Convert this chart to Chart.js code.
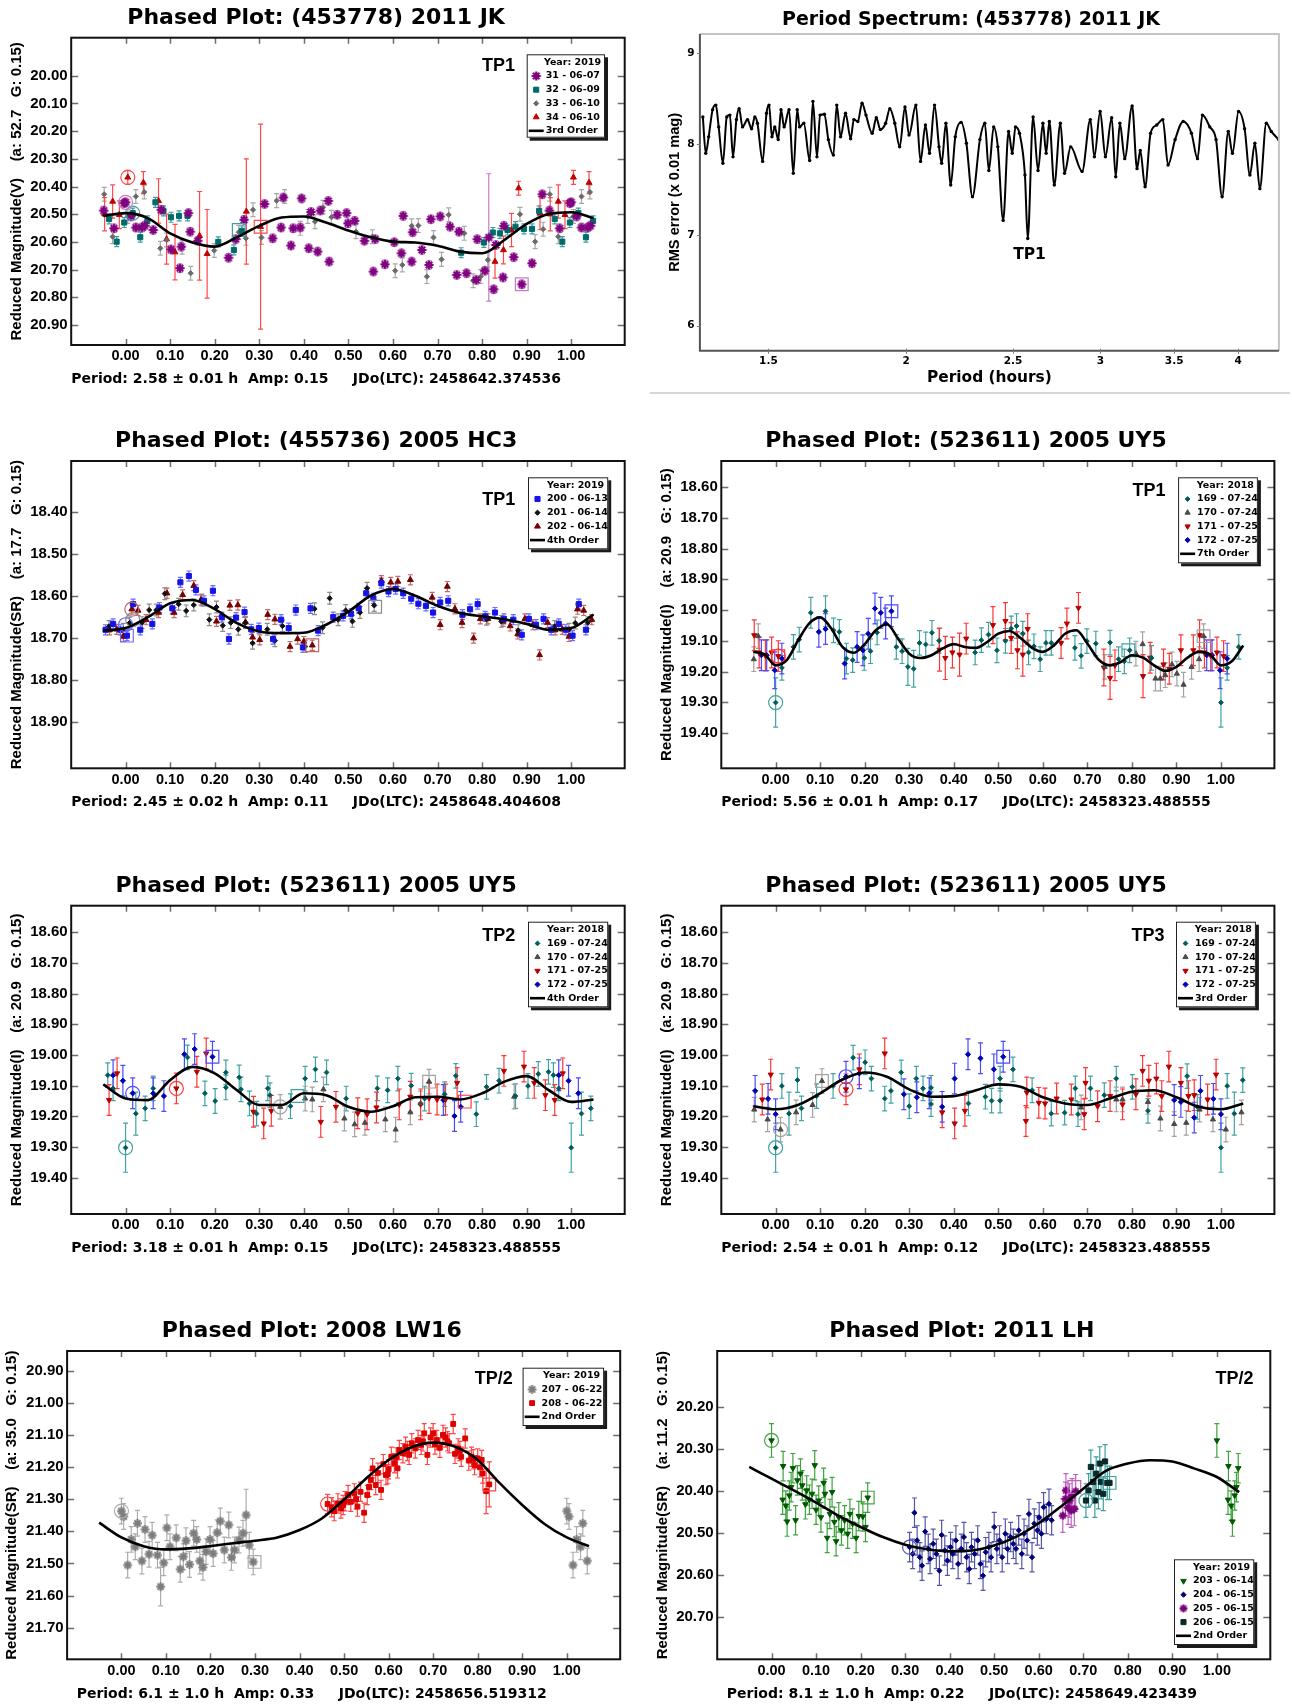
<!DOCTYPE html>
<html>
<head>
<meta charset="utf-8">
<title>Phased plots</title>
<script src="https://cdn.jsdelivr.net/npm/chart.js@4.4.1/dist/chart.umd.min.js"></script>
<style>
  html, body { margin: 0; padding: 0; background: #fff; }
  body { position: relative; width: 1292px; height: 1707px; overflow: hidden; }
  .panel { position: absolute; }
  .rule { position: absolute; left: 650px; top: 392px; width: 640px; height: 2px; background: #d6d6d6; }
</style>
</head>
<body>
<div class="panel" style="left:0;top:0"><canvas id="p1" width="646" height="400"></canvas></div>
<div class="panel" style="left:646px;top:0"><canvas id="p2" width="646" height="392"></canvas></div>
<div class="rule"></div>
<div class="panel" style="left:0;top:420px"><canvas id="p3" width="646" height="420"></canvas></div>
<div class="panel" style="left:646px;top:420px"><canvas id="p4" width="646" height="420"></canvas></div>
<div class="panel" style="left:0;top:860px"><canvas id="p5" width="646" height="420"></canvas></div>
<div class="panel" style="left:646px;top:860px"><canvas id="p6" width="646" height="420"></canvas></div>
<div class="panel" style="left:0;top:1300px"><canvas id="p7" width="646" height="407"></canvas></div>
<div class="panel" style="left:646px;top:1300px"><canvas id="p8" width="646" height="407"></canvas></div>
<script>
// ---- shared tick values ----
const phaseTicks = [0.00, 0.10, 0.20, 0.30, 0.40, 0.50, 0.60, 0.70, 0.80, 0.90, 1.00];
const fitPhase = [-0.05, 0.00, 0.05, 0.10, 0.15, 0.20, 0.25, 0.30, 0.35, 0.40, 0.45, 0.50,
  0.55, 0.60, 0.65, 0.70, 0.75, 0.80, 0.85, 0.90, 0.95, 1.00, 1.05];
const fitPhaseFine = [-0.05, -0.025, 0.00, 0.025, 0.05, 0.075, 0.10, 0.125, 0.15, 0.175, 0.20, 0.225,
  0.25, 0.275, 0.30, 0.325, 0.35, 0.375, 0.40, 0.425, 0.45, 0.475, 0.50, 0.525, 0.55, 0.575,
  0.60, 0.625, 0.65, 0.675, 0.70, 0.725, 0.75, 0.775, 0.80, 0.825, 0.85, 0.875, 0.90, 0.925,
  0.95, 0.975, 1.00, 1.025, 1.05];

// ---- panel 1: (453778) 2011 JK, rows are [phase, mag, (err)] ----
const p1_yTicks = [20.00, 20.10, 20.20, 20.30, 20.40, 20.50, 20.60, 20.70, 20.80, 20.90];
const p1_s31 = [[0.000,20.457],[0.012,20.508],[0.023,20.548],[0.037,20.548],[0.043,20.541],[0.062,20.557],
  [0.080,20.484],[0.102,20.627],[0.122,20.695],[0.125,20.617],[0.141,20.496],[0.145,20.563],[0.162,20.596],
  [0.231,20.657],[0.247,20.590],[0.266,20.520],[0.312,20.463],[0.330,20.587],[0.349,20.548],[0.354,20.440],
  [0.371,20.613],[0.376,20.551],[0.392,20.548],[0.395,20.443],[0.411,20.623],[0.416,20.492],[0.431,20.635],
  [0.437,20.487],[0.455,20.452],[0.457,20.671],[0.475,20.502],[0.496,20.496],[0.499,20.533],[0.514,20.524],
  [0.536,20.596],[0.556,20.707],[0.560,20.590],[0.582,20.681],[0.603,20.601],[0.619,20.641],[0.623,20.506],
  [0.642,20.671],[0.644,20.565],[0.665,20.629],[0.681,20.683],[0.685,20.518],[0.706,20.508],[0.728,20.545],
  [0.743,20.719],[0.748,20.563],[0.765,20.713],[0.787,20.737],[0.789,20.590],[0.806,20.704],[0.815,20.584,0.23],
  [0.826,20.771],[0.831,20.611],[0.847,20.728],[0.849,20.542],[0.871,20.655],[0.889,20.753],[0.912,20.677],
  [0.935,20.428],[0.951,20.487],[0.974,20.551],[0.997,20.460]];
const p1_s32 = [[0.016,20.496],[0.033,20.583],[0.049,20.524],[0.067,20.457],[0.085,20.488],[0.102,20.511],
  [0.120,20.506],[0.139,20.506],[0.208,20.600],[0.243,20.629],[0.261,20.560],[0.753,20.639],[0.804,20.602],
  [0.824,20.566],[0.840,20.569],[0.857,20.557],[0.875,20.545],[0.894,20.553],[0.912,20.553],[0.928,20.488],
  [0.963,20.517],[0.980,20.599],[0.997,20.530]];
const p1_s33 = [[0.005,20.508],[0.023,20.436],[0.042,20.420],[0.078,20.623],[0.092,20.593],[0.127,20.619],
  [0.146,20.713],[0.199,20.631],[0.254,20.565],[0.270,20.587],[0.286,20.484],[0.305,20.584],[0.339,20.451],
  [0.357,20.436],[0.392,20.551],[0.409,20.508],[0.425,20.527],[0.443,20.475],[0.462,20.511],[0.517,20.563],
  [0.554,20.581],[0.605,20.704],[0.621,20.683],[0.642,20.542],[0.657,20.541],[0.676,20.725],[0.691,20.584],
  [0.709,20.663],[0.725,20.502],[0.760,20.569],[0.780,20.740],[0.797,20.725],[0.813,20.665],[0.885,20.500],
  [0.919,20.599],[0.937,20.554],[0.952,20.428],[0.971,20.581]];
const p1_s34 = [[0.005,20.367,0.025],[0.040,20.386,0.04],[0.074,20.452,0.08],[0.092,20.590,0.09],
  [0.111,20.637,0.10],[0.166,20.578,0.16],[0.183,20.643,0.16],[0.271,20.490,0.19],[0.303,20.545,0.37],
  [0.829,20.671,0.06],[0.848,20.629,0.05],[0.866,20.557,0.06],[0.882,20.406,0.025],[0.930,20.496,0.06],
  [0.953,20.500,0.06],[0.971,20.454,0.06],[0.986,20.502,0.05]];
const p1_err = [0.015, 0.018, 0.025, 0.05];
const p1_fit = [20.506,20.496,20.514,20.569,20.602,20.617,20.583,20.542,20.512,20.508,20.530,20.559,
  20.583,20.599,20.602,20.614,20.635,20.641,20.593,20.535,20.499,20.493,20.514];
// rings (first) and boxes (last) around session start/end points
const p1_m31 = [[0.000,20.457],[0.889,20.753]];
const p1_m32 = [[0.016,20.496],[0.254,20.557]];
const p1_m34 = [[0.005,20.367],[0.303,20.545]];

// ---- panel 2: period spectrum ----
const p2_xTicks = [1.5, 2, 2.5, 3, 3.5, 4];
const p2_yTicks = [6, 7, 8, 9];
const p2_period = [1.308,1.316,1.324,1.335,1.344,1.352,1.364,1.375,1.384,1.393,
  1.403,1.411,1.421,1.436,1.448,1.458,1.466,1.482,1.494,1.502,
  1.511,1.520,1.531,1.540,1.550,1.566,1.580,1.593,1.601,1.615,
  1.635,1.646,1.660,1.671,1.686,1.700,1.718,1.730,1.744,1.762,
  1.781,1.793,1.808,1.824,1.839,1.863,1.879,1.895,1.916,1.933,
  1.953,1.973,1.995,2.012,2.041,2.061,2.082,2.100,2.122,2.142,
  2.154,2.173,2.195,2.216,2.243,2.268,2.297,2.333,2.357,2.377,
  2.401,2.422,2.449,2.477,2.496,2.513,2.534,2.563,2.578,2.607,
  2.634,2.661,2.679,2.697,2.725,2.760,2.784,2.820,2.888,2.938,
  2.963,2.999,3.032,3.072,3.098,3.125,3.157,3.206,3.239,3.261,
  3.294,3.332,3.375,3.418,3.456,3.507,3.567,3.629,3.675,3.713,
  3.771,3.820,3.869,3.919,3.953,4.004,4.055,4.100,4.143,4.186,
  4.243,4.287,4.354];
const p2_rms = [8.30,7.90,8.08,8.38,8.43,8.19,7.79,8.30,8.32,7.86,
  8.27,8.39,8.19,8.27,8.17,8.30,8.23,7.81,8.34,8.43,
  8.08,8.19,8.05,8.38,8.19,8.38,7.68,8.38,8.19,8.23,
  7.82,8.47,7.86,8.32,8.33,8.05,7.88,8.43,8.08,8.34,
  8.06,8.27,8.25,8.45,8.32,8.12,8.29,8.16,8.23,8.39,
  8.23,7.97,8.41,8.10,8.43,7.81,8.21,7.90,8.43,7.97,
  7.79,8.23,7.55,8.08,8.24,8.01,7.42,8.05,8.23,7.71,
  8.19,7.97,7.16,8.14,7.90,8.19,8.12,7.66,6.96,8.30,
  7.71,8.23,7.90,8.25,7.55,8.23,7.68,7.97,7.70,8.27,
  7.86,8.36,7.86,8.29,7.64,8.23,7.84,8.42,7.73,7.93,
  7.53,8.12,8.21,8.27,7.77,8.05,8.25,8.12,7.84,8.32,
  8.19,8.05,7.42,8.14,7.90,8.36,8.17,7.66,8.01,7.51,
  8.23,8.14,8.05];

// ---- panel 3: (455736) 2005 HC3 ----
const p3_yTicks = [18.40, 18.50, 18.60, 18.70, 18.80, 18.90];
const p3_s200 = [[0.003,18.694],[0.017,18.619],[0.033,18.680],[0.060,18.666],[0.076,18.627],[0.105,18.629],
  [0.123,18.567],[0.142,18.552],[0.158,18.585],[0.176,18.611],[0.196,18.587],[0.216,18.650],[0.232,18.702],
  [0.248,18.651],[0.267,18.638],[0.282,18.679],[0.299,18.676],[0.331,18.702],[0.349,18.656],[0.366,18.676],
  [0.382,18.633],[0.398,18.722],[0.415,18.629],[0.432,18.682],[0.466,18.650],[0.488,18.647],[0.506,18.642],
  [0.523,18.629],[0.540,18.593],[0.556,18.605],[0.574,18.569],[0.590,18.589],[0.606,18.583],[0.623,18.593],
  [0.641,18.606],[0.657,18.618],[0.674,18.623],[0.690,18.639],[0.706,18.615],[0.724,18.611],[0.756,18.644],
  [0.773,18.631],[0.790,18.619],[0.807,18.648],[0.829,18.639],[0.849,18.654],[0.870,18.656],[0.889,18.692],
  [0.905,18.654],[0.921,18.668],[0.938,18.654],[0.955,18.680],[0.972,18.666],[0.988,18.680]];
const p3_s201 = [[0.009,18.664],[0.037,18.663],[0.053,18.633],[0.069,18.633],[0.088,18.594],[0.105,18.629],
  [0.119,18.619],[0.136,18.635],[0.153,18.621],[0.171,18.609],[0.188,18.656],[0.204,18.626],[0.218,18.670],
  [0.236,18.663],[0.253,18.679],[0.269,18.663],[0.285,18.712],[0.318,18.679],[0.335,18.706],[0.352,18.671],
  [0.403,18.720],[0.424,18.630],[0.442,18.675],[0.458,18.605],[0.477,18.656],[0.494,18.634],[0.509,18.660],
  [0.526,18.639],[0.542,18.581],[0.558,18.622],[0.810,18.655],[0.843,18.660],[0.881,18.682],[0.963,18.672],
  [0.995,18.679]];
const p3_s202 = [[0.014,18.631],[0.028,18.634],[0.046,18.656],[0.074,18.639],[0.093,18.593],[0.109,18.639],
  [0.128,18.597],[0.153,18.575],[0.169,18.609],[0.204,18.660],[0.234,18.622],[0.252,18.621],[0.269,18.662],
  [0.285,18.698],[0.301,18.704],[0.319,18.644],[0.335,18.655],[0.369,18.720],[0.386,18.702],[0.400,18.708],
  [0.419,18.717],[0.574,18.563],[0.595,18.567],[0.611,18.565],[0.639,18.561],[0.688,18.603],[0.706,18.668],
  [0.722,18.577],[0.739,18.630],[0.755,18.663],[0.781,18.700],[0.796,18.654],[0.813,18.654],[0.847,18.660],
  [0.863,18.671],[0.880,18.690],[0.896,18.654],[0.914,18.668],[0.929,18.740],[0.947,18.663],[0.964,18.680],
  [0.980,18.679],[0.995,18.696]];
const p3_err = [0.012, 0.014, 0.012];
const p3_fit = [18.682,18.676,18.650,18.617,18.609,18.631,18.664,18.684,18.688,18.687,18.668,18.637,
  18.599,18.583,18.599,18.623,18.640,18.648,18.655,18.666,18.680,18.676,18.644];
const p3_m200 = [[0.000,18.668],[0.003,18.694]];
const p3_m201 = [[0.016,18.656],[0.560,18.625]];
const p3_m202 = [[0.014,18.631],[0.419,18.717]];

// ---- panels 4-6: (523611) 2005 UY5 ----
const uy5_yTicks = [18.60, 18.70, 18.80, 18.90, 19.00, 19.10, 19.20, 19.30, 19.40];
const uy5_err = [0.04, 0.04, 0.05, 0.05];

const p4_s169 = [[0.000,19.301,0.08],[0.014,19.188],[0.040,19.120],[0.053,19.096],[0.079,19.009,0.05],
  [0.112,19.004,0.05],[0.130,19.066],[0.143,19.071],[0.159,19.158,0.05],[0.173,19.163],[0.199,19.156],
  [0.213,19.134],[0.228,19.073],[0.271,19.120],[0.284,19.134],[0.297,19.185,0.06],[0.310,19.191,0.06],
  [0.323,19.107],[0.337,19.112],[0.351,19.074],[0.367,19.100],[0.448,19.138],[0.462,19.098],[0.478,19.080],
  [0.497,19.131],[0.516,19.100],[0.529,19.060],[0.541,19.052],[0.555,19.077],[0.568,19.138],[0.580,19.118],
  [0.594,19.160],[0.607,19.107],[0.619,19.107],[0.672,19.123],[0.686,19.149],[0.699,19.101],[0.719,19.109],
  [0.751,19.106],[0.770,19.160],[0.783,19.167],[0.795,19.131],[0.844,19.156]];
const p4_s170 = [[0.739,19.185],[0.809,19.142],[0.824,19.111],[0.853,19.223],[0.864,19.223],[0.875,19.212],
  [0.890,19.177],[0.901,19.207],[0.916,19.243],[0.934,19.185],[0.951,19.160],[0.961,19.085]];
const p4_s171 = [[0.006,19.150],[0.368,19.129,0.07],[0.381,19.156,0.07],[0.397,19.138],[0.413,19.145,0.07],
  [0.428,19.093],[0.488,19.049,0.06],[0.516,19.036,0.06],[0.529,19.091],[0.543,19.131,0.06],[0.555,19.145,0.07],
  [0.566,19.062],[0.641,19.107],[0.654,19.044],[0.680,18.993],[0.737,19.187,0.06],[0.751,19.221,0.07],
  [0.762,19.180],[0.825,19.215,0.07],[0.841,19.155],[0.871,19.177],[0.884,19.191],[0.910,19.131],
  [0.938,19.131],[0.952,19.082],[0.963,19.138],[0.977,19.148],[0.991,19.138]];
const p4_s172 = [[0.014,19.158],[0.097,19.071],[0.112,19.062],[0.155,19.174],[0.183,19.120],[0.196,19.131],
  [0.208,19.077],[0.223,18.995],[0.236,19.009],[0.247,19.044],[0.260,19.004],[0.968,19.147],[0.980,19.147],
  [0.998,19.196,0.06]];
const p4_fit = [19.136,19.144,19.180,19.163,19.100,19.044,19.024,19.060,19.120,19.139,19.111,19.066,
  19.046,19.093,19.142,19.156,19.147,19.125,19.111,19.120,19.123,19.104,19.077,19.068,19.091,19.122,
  19.136,19.115,19.077,19.066,19.109,19.161,19.180,19.169,19.147,19.155,19.180,19.198,19.185,19.155,
  19.136,19.144,19.180,19.166,19.115];
const p4_m169 = [[0.000,19.301],[0.792,19.131]];
const p4_m170 = [null,[0.961,19.085]];
const p4_m171 = [[0.006,19.150],[0.006,19.150]];
const p4_m172 = [null,[0.260,19.004]];

const p5_s169 = [[0.000,19.302,0.08],[0.023,19.191,0.07],[0.044,19.174],[0.062,19.109],[0.139,19.008],
  [0.178,19.125],[0.201,19.150],[0.225,19.057],[0.225,19.106],[0.255,19.073],[0.259,19.112],[0.278,19.158],
  [0.294,19.191],[0.319,19.109],[0.324,19.131],[0.370,19.167],[0.403,19.077],[0.426,19.047],[0.451,19.057],
  [0.495,19.142],[0.565,19.109],[0.588,19.115],[0.611,19.077],[0.641,19.100],[0.671,19.142],[0.716,19.128],
  [0.741,19.068],[0.787,19.193],[0.810,19.104],[0.838,19.084],[0.875,19.134],[0.903,19.101],[0.926,19.062],
  [0.949,19.055],[0.960,19.066],[0.972,19.109]];
const p5_s170 = [[0.347,19.169],[0.403,19.142],[0.419,19.145],[0.444,19.112],[0.491,19.207],[0.514,19.226],
  [0.537,19.221],[0.583,19.210],[0.606,19.243],[0.639,19.187],[0.662,19.158],[0.681,19.087],[0.872,19.136]];
const p5_s171 = [[0.114,19.109],[0.160,19.055],[0.181,18.995],[0.287,19.185],[0.310,19.223],[0.327,19.182],
  [0.438,19.218],[0.472,19.169],[0.521,19.190],[0.542,19.193],[0.563,19.171],[0.614,19.161],[0.639,19.136],
  [0.662,19.161],[0.681,19.140],[0.699,19.145],[0.718,19.145],[0.744,19.091],[0.849,19.052],[0.894,19.038],
  [0.917,19.091],[0.942,19.131],[0.963,19.147],[0.981,19.060]];
const p5_s172 = [[0.016,19.125],[0.062,19.125],[0.086,19.134],[0.132,18.998],[0.155,18.981],[0.195,19.006],
  [0.713,19.147],[0.738,19.199],[0.752,19.169],[0.972,19.066],[0.994,19.084]];
const p5_fit = [19.096,19.142,19.147,19.082,19.039,19.060,19.115,19.163,19.163,19.125,19.131,19.169,
  19.185,19.167,19.138,19.136,19.145,19.125,19.087,19.069,19.115,19.153,19.145];
const p5_m169 = [[0.000,19.302],[0.386,19.134]];
const p5_m170 = [[0.347,19.169],[0.681,19.087]];
const p5_m171 = [[0.114,19.109],[0.761,19.152]];
const p5_m172 = [[0.016,19.125],[0.195,19.006]];

const p6_s169 = [[0.000,19.302,0.08],[0.014,19.101],[0.030,19.191,0.07],[0.049,19.082],[0.058,19.174],
  [0.092,19.134],[0.129,19.101],[0.174,19.009],[0.201,19.024],[0.215,19.077],[0.245,19.142],[0.259,19.117],
  [0.282,19.057],[0.300,19.167],[0.316,19.077],[0.331,19.109],[0.349,19.107],[0.349,19.160],[0.433,19.158],
  [0.471,19.136],[0.485,19.149],[0.504,19.077],[0.504,19.149],[0.533,19.047],[0.576,19.115],[0.619,19.191],
  [0.649,19.188],[0.673,19.109],[0.679,19.193],[0.707,19.109],[0.738,19.131],[0.765,19.077],[0.801,19.104],
  [0.836,19.182],[0.924,19.069],[0.947,19.169]];
const p6_s170 = [[0.011,19.243],[0.046,19.187],[0.083,19.163],[0.104,19.085],[0.686,19.171],[0.765,19.145],
  [0.779,19.145],[0.836,19.153],[0.864,19.207],[0.895,19.225],[0.922,19.221],[0.952,19.178],[0.982,19.210]];
const p6_s171 = [[0.158,19.112],[0.188,19.047],[0.245,18.995],[0.374,19.187],[0.402,19.223],[0.425,19.182],
  [0.562,19.215],[0.564,19.122],[0.591,19.156],[0.605,19.158],[0.631,19.142],[0.664,19.145],[0.693,19.193],
  [0.696,19.091],[0.723,19.167],[0.751,19.134],[0.779,19.161],[0.809,19.128],[0.824,19.052],[0.838,19.084],
  [0.855,19.077],[0.867,19.134],[0.883,19.038],[0.910,19.091],[0.927,19.134],[0.940,19.131],[0.970,19.145],
  [0.989,19.064]];
const p6_s172 = [[0.000,19.193],[0.158,19.071],[0.188,19.060],[0.288,19.128],[0.317,19.138],[0.345,19.125],
  [0.374,19.169],[0.402,19.077],[0.432,18.998],[0.460,19.011],[0.490,19.047],[0.511,19.006],[0.895,19.147],
  [0.910,19.153],[0.940,19.204],[0.954,19.117],[0.983,19.143]];
const p6_fit = [19.167,19.177,19.163,19.125,19.080,19.057,19.071,19.112,19.136,19.134,19.115,19.096,
  19.104,19.138,19.158,19.163,19.142,19.120,19.115,19.138,19.169,19.177,19.158];
const p6_m169 = [[0.000,19.302],null];
const p6_m170 = [[0.011,19.243],[0.104,19.085]];
const p6_m171 = [[0.158,19.112],null];
const p6_m172 = [[0.158,19.071],[0.511,19.006]];

// ---- panel 7: 2008 LW16 ----
const p7_yTicks = [20.90, 21.00, 21.10, 21.20, 21.30, 21.40, 21.50, 21.60, 21.70];
const p7_s207 = [[0.000,21.337],[0.005,21.354],[0.014,21.505],[0.022,21.425],[0.031,21.448],[0.036,21.375],
  [0.046,21.492],[0.053,21.394],[0.062,21.471],[0.069,21.412],[0.081,21.474],[0.088,21.572,0.06],[0.095,21.498],
  [0.102,21.389],[0.109,21.448],[0.123,21.420],[0.132,21.518],[0.139,21.479],[0.145,21.429],[0.153,21.503],
  [0.162,21.406],[0.169,21.425],[0.176,21.492],[0.183,21.512],[0.190,21.463],[0.199,21.425],[0.206,21.469],
  [0.215,21.404],[0.222,21.368],[0.231,21.458],[0.241,21.380],[0.247,21.481],[0.254,21.458],[0.264,21.427],
  [0.273,21.406],[0.280,21.349,0.08],[0.287,21.443],[0.296,21.495]];
const p7_s208 = [[0.463,21.315],[0.472,21.325],[0.478,21.337],[0.486,21.313],[0.493,21.329],[0.498,21.318],
  [0.502,21.306],[0.509,21.287],[0.515,21.308],[0.523,21.282],[0.527,21.300],[0.530,21.323],[0.537,21.277],
  [0.545,21.342],[0.552,21.287],[0.556,21.262],[0.560,21.240],[0.564,21.204],[0.571,21.256],[0.576,21.218],
  [0.583,21.271],[0.588,21.191],[0.594,21.225],[0.598,21.222],[0.600,21.207],[0.606,21.168],[0.613,21.188],
  [0.617,21.170],[0.620,21.204],[0.624,21.147],[0.632,21.157],[0.638,21.137],[0.642,21.150],[0.646,21.162],
  [0.652,21.126],[0.660,21.142],[0.666,21.116],[0.673,21.131],[0.677,21.120],[0.680,21.095],[0.687,21.162],
  [0.694,21.108],[0.700,21.095],[0.704,21.130],[0.708,21.116],[0.715,21.140],[0.722,21.100],[0.728,21.108],
  [0.732,21.120],[0.736,21.126],[0.745,21.066],[0.749,21.159],[0.756,21.142],[0.760,21.150],[0.763,21.168],
  [0.772,21.111],[0.780,21.180],[0.786,21.168],[0.790,21.176],[0.793,21.194],[0.800,21.173],[0.805,21.201],
  [0.809,21.178],[0.811,21.220],[0.819,21.275,0.07],[0.826,21.254,0.07]];
const p7_err = [0.04, 0.03];
const p7_fit = [21.373,21.419,21.446,21.456,21.453,21.446,21.437,21.429,21.419,21.396,21.360,21.301,
  21.235,21.178,21.139,21.124,21.137,21.178,21.251,21.318,21.377,21.419,21.446];
const p7_m207 = [[0.000,21.337],[0.299,21.495]];
const p7_m208 = [[0.463,21.315],[0.826,21.254]];

// ---- panel 8: 2011 LH ----
const p8_yTicks = [20.20, 20.30, 20.40, 20.50, 20.60, 20.70];
const p8_s203 = [[0.000,20.279,0.04],[0.026,20.340],[0.025,20.420],[0.032,20.434],[0.035,20.472],[0.040,20.410],
  [0.044,20.390],[0.048,20.345],[0.054,20.469],[0.058,20.374],[0.065,20.358],[0.069,20.386],[0.076,20.431],
  [0.079,20.398],[0.085,20.420],[0.091,20.406],[0.097,20.338],[0.100,20.444],[0.106,20.422],[0.111,20.462],
  [0.117,20.380],[0.120,20.406],[0.125,20.511],[0.131,20.454],[0.136,20.402],[0.141,20.473],[0.145,20.519],
  [0.151,20.462],[0.157,20.493],[0.164,20.469],[0.171,20.501],[0.176,20.454],[0.182,20.477],[0.190,20.511],
  [0.196,20.459],[0.205,20.460],[0.211,20.485],[0.216,20.415]];
const p8_s204 = [[0.310,20.533],[0.317,20.549],[0.321,20.451],[0.327,20.517],[0.333,20.557],[0.338,20.577],
  [0.345,20.496],[0.352,20.537],[0.356,20.561],[0.363,20.525],[0.370,20.549],[0.377,20.589],[0.382,20.504],
  [0.389,20.541],[0.395,20.565],[0.402,20.533],[0.407,20.549],[0.414,20.517],[0.419,20.573],[0.426,20.537],
  [0.432,20.509],[0.438,20.557],[0.444,20.585],[0.449,20.533],[0.456,20.549],[0.463,20.517],[0.469,20.573],
  [0.475,20.601],[0.481,20.545],[0.488,20.533],[0.493,20.557],[0.500,20.485],[0.506,20.537],[0.512,20.517],
  [0.518,20.557],[0.525,20.501],[0.530,20.537],[0.537,20.509],[0.543,20.525],[0.549,20.537],[0.555,20.493],
  [0.562,20.549],[0.567,20.501],[0.574,20.517],[0.578,20.454],[0.585,20.557],[0.590,20.477],[0.597,20.493],
  [0.601,20.462],[0.606,20.501],[0.611,20.438],[0.617,20.466],[0.623,20.430],[0.629,20.469]];
const p8_s205 = [[0.654,20.458],[0.660,20.418],[0.661,20.398],[0.666,20.439],[0.669,20.422],[0.673,20.446],
  [0.675,20.410],[0.680,20.442],[0.683,20.400]];
const p8_s206 = [[0.706,20.422],[0.712,20.398],[0.717,20.342],[0.722,20.378],[0.726,20.422],[0.729,20.358],
  [0.734,20.402],[0.737,20.334],[0.740,20.378],[0.745,20.406],[0.749,20.329],[0.754,20.380],[0.759,20.380]];
const p8_err = [0.035, 0.035, 0.04, 0.04];
const p8_fit = [20.342,20.370,20.398,20.427,20.458,20.485,20.509,20.527,20.538,20.543,20.541,20.529,
  20.508,20.476,20.436,20.394,20.352,20.334,20.326,20.329,20.346,20.366,20.402];
const p8_m203 = [[0.000,20.279],[0.216,20.415]];
const p8_m204 = [[0.310,20.533],null];
const p8_m205 = [null,[0.680,20.390]];
const p8_m206 = [[0.706,20.422],[0.759,20.380]];

// ---- styling ----
const WIDE = "'DejaVu Sans', 'Liberation Sans', sans-serif";
const ARIAL = "'Liberation Sans', Arial, sans-serif";

// bold asterisk marker, used as an image point style
function asterisk(color, r, lw) {
  const size = Math.ceil(2 * r + lw + 2);
  const c = document.createElement('canvas');
  c.width = size;
  c.height = size;
  const g = c.getContext('2d');
  const m = size / 2;
  g.fillStyle = color;
  g.strokeStyle = color;
  g.lineWidth = lw;
  g.fillRect(m - r * 0.45, m - r * 0.45, r * 0.9, r * 0.9);
  g.beginPath();
  for (let k = 0; k < 4; k++) {
    const a = k * Math.PI / 4;
    g.moveTo(m - r * Math.cos(a), m - r * Math.sin(a));
    g.lineTo(m + r * Math.cos(a), m + r * Math.sin(a));
  }
  g.stroke();
  return c;
}

const SESS = {
  '31':  {shape: asterisk('#800080', 4.6, 2.2), r: 4.6, bw: 1, color: '#800080', err: '#c67cc6'},
  '32':  {shape: 'rect', r: 3.6, bw: 1, color: '#006b6b', err: '#3f9f9f'},
  '33':  {shape: 'rectRot', r: 2.6, bw: 1, color: '#6a6a6a', err: '#a9a9a9'},
  '34':  {shape: 'triangle', r: 3.4, bw: 1, color: '#c00000', err: '#ff4a4a'},
  '200': {shape: 'rect', r: 3.6, bw: 1, color: '#1414e6', err: '#6b6bff'},
  '201': {shape: 'rectRot', r: 2.6, bw: 1, color: '#111111', err: '#8c8c8c'},
  '202': {shape: 'triangle', r: 3.4, bw: 1, color: '#7a0000', err: '#c06a6a'},
  '169': {shape: 'rectRot', r: 2.4, bw: 1, color: '#005c5c', err: '#43a3a3'},
  '170': {shape: 'triangle', r: 3, bw: 1, color: '#4a4a4a', err: '#a3a3a3'},
  '171': {shape: 'triangle', r: 3, bw: 1, rot: 180, color: '#b80000', err: '#ff3636'},
  '172': {shape: 'rectRot', r: 2.6, bw: 1, color: '#0000b4', err: '#4a4aff'},
  '207': {shape: asterisk('#7d7d7d', 4.4, 2), r: 4.4, bw: 1, color: '#7d7d7d', err: '#adadad'},
  '208': {shape: 'rect', r: 3.4, bw: 1, color: '#dd0000', err: '#ff4444'},
  '203': {shape: 'triangle', r: 3.2, bw: 1, rot: 180, color: '#005a00', err: '#3fa33f'},
  '204': {shape: 'rectRot', r: 2.6, bw: 1, color: '#00007a', err: '#5656a8'},
  '205': {shape: asterisk('#7a007a', 4, 1.8), r: 4, bw: 1, color: '#7a007a', err: '#c060c0'},
  '206': {shape: 'rect', r: 3.6, bw: 1, color: '#0a2a2a', err: '#3f9f9f'}
};

// phase-wrap: points near 0 are repeated after 1, points near 1 before 0
function wrapRows(rows, errDef) {
  const pts = rows.map(r => ({x: r[0], y: r[1], e: r.length > 2 ? r[2] : errDef}));
  const out = pts.slice();
  pts.forEach(p => {
    if (p.x >= 0.95) out.push({x: p.x - 1, y: p.y, e: p.e});
    if (p.x <= 0.05) out.push({x: p.x + 1, y: p.y, e: p.e});
  });
  return out;
}

function drawMarker(ctx, st, x, y) {
  ctx.fillStyle = st.color;
  ctx.strokeStyle = st.color;
  ctx.lineWidth = st.bw || 1;
  if (Chart.helpers && Chart.helpers.drawPoint) {
    Chart.helpers.drawPoint(ctx, {pointStyle: st.shape, radius: st.r, rotation: st.rot || 0, borderWidth: st.bw || 1}, x, y);
  } else if (st.shape instanceof HTMLCanvasElement) {
    ctx.drawImage(st.shape, x - st.shape.width / 2, y - st.shape.height / 2);
  } else {
    ctx.fillRect(x - st.r, y - st.r, st.r * 2, st.r * 2);
  }
}

// ---- plugins ----
const errorBars = {
  id: 'errorBars',
  beforeDatasetsDraw(chart) {
    const {ctx, scales: {x, y}} = chart;
    ctx.save();
    ctx.lineWidth = 1.2;
    chart.data.datasets.forEach(ds => {
      if (!ds.errColor) return;
      ctx.strokeStyle = ds.errColor;
      ctx.beginPath();
      ds.data.forEach(p => {
        const px = x.getPixelForValue(p.x);
        const y1 = y.getPixelForValue(p.y - p.e);
        const y2 = y.getPixelForValue(p.y + p.e);
        ctx.moveTo(px, y1); ctx.lineTo(px, y2);
        ctx.moveTo(px - 2.5, y1); ctx.lineTo(px + 2.5, y1);
        ctx.moveTo(px - 2.5, y2); ctx.lineTo(px + 2.5, y2);
      });
      ctx.stroke();
    });
    ctx.restore();
  }
};

const frame = {
  id: 'frame',
  afterDatasetsDraw(chart, args, o) {
    if (!o.kind) return;
    const {ctx, chartArea: a, scales: {x, y}} = chart;
    ctx.save();
    if (o.kind === 'phased') {
      ctx.strokeStyle = '#6e6e6e';
      ctx.lineWidth = 1.5;
      ctx.beginPath();
      x.ticks.forEach(t => {
        const px = Math.round(x.getPixelForValue(t.value)) + 0.5;
        ctx.moveTo(px, a.top); ctx.lineTo(px, a.top + 6);
        ctx.moveTo(px, a.bottom); ctx.lineTo(px, a.bottom - 6);
      });
      y.ticks.forEach(t => {
        const py = Math.round(y.getPixelForValue(t.value)) + 0.5;
        ctx.moveTo(a.left, py); ctx.lineTo(a.left + 7, py);
        ctx.moveTo(a.right, py); ctx.lineTo(a.right - 7, py);
      });
      ctx.stroke();
      ctx.strokeStyle = '#111';
      ctx.lineWidth = 2;
      ctx.strokeRect(a.left, a.top, a.right - a.left, a.bottom - a.top);
    } else {
      ctx.lineWidth = 2;
      ctx.strokeStyle = '#c4c4c4';
      ctx.beginPath();
      ctx.moveTo(a.left, a.top); ctx.lineTo(a.right, a.top); ctx.lineTo(a.right, a.bottom);
      ctx.stroke();
      ctx.strokeStyle = '#555';
      ctx.beginPath();
      ctx.moveTo(a.left, a.top); ctx.lineTo(a.left, a.bottom); ctx.lineTo(a.right, a.bottom);
      ctx.stroke();
      ctx.lineWidth = 1;
      ctx.strokeStyle = '#777';
      ctx.beginPath();
      x.ticks.forEach(t => {
        const px = Math.round(x.getPixelForValue(t.value)) + 0.5;
        ctx.moveTo(px, a.bottom - 2); ctx.lineTo(px, a.bottom + 3);
      });
      y.ticks.forEach(t => {
        const py = Math.round(y.getPixelForValue(t.value)) + 0.5;
        ctx.moveTo(a.left - 3, py); ctx.lineTo(a.left + 1, py);
      });
      ctx.stroke();
    }
    ctx.restore();
  }
};

const boxLegend = {
  id: 'boxLegend',
  afterDraw(chart, args, o) {
    if (!o.w) return;
    const {ctx, chartArea: a} = chart;
    const x0 = a.right - o.right - o.w, y0 = a.top + o.top;
    ctx.save();
    ctx.fillStyle = '#1a1a1a';
    ctx.fillRect(x0 + 3, y0 + 3, o.w, o.h);
    ctx.fillStyle = '#fff';
    ctx.fillRect(x0, y0, o.w, o.h);
    ctx.strokeStyle = '#222';
    ctx.lineWidth = 1;
    ctx.strokeRect(x0 + 0.5, y0 + 0.5, o.w - 1, o.h - 1);
    ctx.font = 'bold 9.5px ' + WIDE;
    ctx.textBaseline = 'middle';
    ctx.fillStyle = '#000';
    ctx.textAlign = 'right';
    ctx.fillText(o.header, x0 + o.w - 4, y0 + 8);
    ctx.textAlign = 'left';
    let row = 1;
    chart.data.datasets.forEach(ds => {
      if (!ds.legendStyle && !ds.isFit) return;
      const yy = y0 + 8 + 13.7 * row;
      if (ds.isFit) {
        ctx.strokeStyle = '#000';
        ctx.lineWidth = 2.6;
        ctx.beginPath(); ctx.moveTo(x0 + 2, yy); ctx.lineTo(x0 + 17, yy); ctx.stroke();
      } else {
        drawMarker(ctx, ds.legendStyle, x0 + 9.5, yy);
      }
      ctx.fillStyle = '#000';
      ctx.fillText(ds.label, x0 + 19, yy);
      row++;
    });
    ctx.restore();
  }
};

const tpLabel = {
  id: 'tpLabel',
  afterDraw(chart, args, o) {
    if (!o.text) return;
    const ctx = chart.ctx;
    ctx.save();
    ctx.font = o.font;
    ctx.fillStyle = '#000';
    ctx.textAlign = 'center';
    ctx.textBaseline = 'middle';
    ctx.fillText(o.text, o.x, o.y);
    ctx.restore();
  }
};

Chart.register(errorBars, frame, boxLegend, tpLabel);
Chart.defaults.color = '#000';
Chart.defaults.animation = false;

// ---- phased plot builder ----
function phasedChart(id, p) {
  const datasets = [];
  p.sets.forEach(s => {
    const st = SESS[s.key];
    datasets.push({
      type: 'scatter',
      label: s.label,
      data: wrapRows(s.rows, s.err),
      legendStyle: st,
      errColor: st.err,
      pointStyle: st.shape,
      pointRadius: st.r,
      pointRotation: st.rot || 0,
      pointBackgroundColor: st.color,
      pointBorderColor: st.color,
      pointBorderWidth: st.bw,
      order: 3
    });
  });
  p.sets.forEach(s => {
    if (!s.marks) return;
    const st = SESS[s.key];
    const pts = [], shapes = [], radii = [];
    s.marks.forEach((m, i) => {
      if (!m) return;
      pts.push({x: m[0], y: m[1]});
      shapes.push(i === 0 ? 'circle' : 'rect');
      radii.push(i === 0 ? 7 : 9);
    });
    datasets.push({
      type: 'scatter',
      data: pts,
      pointStyle: shapes,
      pointRadius: radii,
      pointBackgroundColor: 'rgba(0,0,0,0)',
      pointBorderColor: st.err,
      pointBorderWidth: 1.2,
      order: 2
    });
  });
  datasets.push({
    type: 'line',
    label: p.fitLabel,
    isFit: true,
    data: p.fitX.map((v, i) => ({x: v, y: p.fitY[i]})),
    borderColor: '#000',
    borderWidth: 2.6,
    pointRadius: 0,
    cubicInterpolationMode: 'monotone',
    order: 0
  });

  const padL = p.ytX - 9;
  const footPad = p.H - p.footY - 8.4;
  new Chart(document.getElementById(id), {
    type: 'scatter',
    data: {datasets},
    options: {
      responsive: false,
      events: [],
      layout: {padding: {left: padL, right: p.W - p.R, top: 0, bottom: 0}},
      plugins: {
        legend: {display: false},
        tooltip: {enabled: false},
        title: {
          display: true, text: p.title, color: '#000',
          font: {family: WIDE, size: 22, weight: 'bold', lineHeight: 1.2},
          padding: {top: p.titleY - 13.2, bottom: p.T - p.titleY - 13.2}
        },
        subtitle: {
          display: true, position: 'bottom', text: p.foot, color: '#000',
          font: {family: WIDE, size: 14, weight: 'bold', lineHeight: 1.2},
          padding: {top: 2, bottom: footPad}
        },
        frame: {kind: 'phased'},
        boxLegend: {header: p.year, right: p.legend[0], top: p.legend[1], w: p.legend[2], h: p.legend[3]},
        tpLabel: {text: p.tp[0], x: p.tp[1], y: p.tp[2], font: 'bold 18px ' + ARIAL}
      },
      scales: {
        x: {
          type: 'linear', min: -0.122, max: 1.12,
          afterBuildTicks: s => { s.ticks = phaseTicks.map(v => ({value: v})); },
          afterFit: s => { s.height = p.footY - p.B - 10.4; },
          grid: {display: false, drawTicks: false},
          border: {display: false},
          ticks: {
            color: '#000', padding: 2.7, autoSkip: false, maxRotation: 0,
            font: {family: ARIAL, size: 14.5, weight: 'bold'},
            callback: v => v.toFixed(2)
          }
        },
        y: {
          type: 'linear', reverse: true, min: p.yMin, max: p.yMax,
          afterBuildTicks: s => { s.ticks = p.yTicks.map(v => ({value: v})); },
          afterFit: s => { s.width = p.L - padL; },
          grid: {display: false, drawTicks: false},
          border: {display: false},
          ticks: {
            color: '#000', padding: 3.5, autoSkip: false,
            font: {family: ARIAL, size: 15, weight: 'bold'},
            callback: v => v.toFixed(2)
          },
          title: {
            display: true, text: p.yTitle, color: '#000',
            font: {family: ARIAL, size: 15, weight: 'bold', lineHeight: 1.2},
            padding: {top: 0, bottom: 0}
          }
        }
      }
    }
  });
}

// ---- period spectrum ----
function spectrumChart() {
  new Chart(document.getElementById('p2'), {
    type: 'line',
    data: {
      datasets: [{
        data: p2_period.map((v, i) => ({x: v, y: p2_rms[i]})),
        borderColor: '#000',
        borderWidth: 2,
        pointRadius: 1.7,
        pointBackgroundColor: '#000',
        pointBorderWidth: 0,
        cubicInterpolationMode: 'monotone'
      }]
    },
    options: {
      responsive: false,
      events: [],
      layout: {padding: {left: 17, right: 646 - 632.9, top: 0, bottom: 0}},
      plugins: {
        legend: {display: false},
        tooltip: {enabled: false},
        title: {
          display: true, text: 'Period Spectrum: (453778) 2011 JK', color: '#000',
          font: {family: WIDE, size: 19, weight: 'bold', lineHeight: 1.2},
          padding: {top: 8.6, bottom: 2.6}
        },
        frame: {kind: 'spectrum'},
        tpLabel: {text: 'TP1', x: 383.5, y: 255, font: 'bold 15.5px ' + WIDE}
      },
      scales: {
        x: {
          type: 'logarithmic', min: 1.3095, max: 4.356,
          afterBuildTicks: s => { s.ticks = p2_xTicks.map(v => ({value: v})); },
          afterFit: s => { s.height = 392 - 350.7; },
          grid: {display: false, drawTicks: false},
          border: {display: false},
          ticks: {
            color: '#000', padding: 4.7, autoSkip: false, maxRotation: 0,
            font: {family: WIDE, size: 10.5, weight: 'bold'},
            callback: v => String(v)
          },
          title: {
            display: true, text: 'Period (hours)', color: '#000',
            font: {family: WIDE, size: 15.4, weight: 'bold', lineHeight: 1.2},
            padding: {top: 0, bottom: 5}
          }
        },
        y: {
          type: 'linear', min: 5.725, max: 9.213,
          afterBuildTicks: s => { s.ticks = p2_yTicks.map(v => ({value: v})); },
          afterFit: s => { s.width = 53.9 - 17; },
          grid: {display: false, drawTicks: false},
          border: {display: false},
          ticks: {
            color: '#000', padding: 5.3,
            font: {family: WIDE, size: 10.5, weight: 'bold'},
            callback: v => String(v)
          },
          title: {
            display: true, text: 'RMS error (x 0.01 mag)', color: '#000',
            font: {family: ARIAL, size: 14.6, weight: 'bold', lineHeight: 1.2},
            padding: {top: 3, bottom: 0}
          }
        }
      }
    }
  });
}

phasedChart('p1', {
  W: 646, H: 400, L: 71.2, R: 624.7, T: 37.7, B: 345, titleY: 18.3, footY: 379, ytX: 16.5,
  title: 'Phased Plot: (453778) 2011 JK',
  foot: 'Period: 2.58 \u00b1 0.01 h  Amp: 0.15     JDo(LTC): 2458642.374536',
  yTitle: 'Reduced Magnitude(V)    (a: 52.7   G: 0.15)',
  yMin: 19.863, yMax: 20.972, yTicks: p1_yTicks,
  sets: [
    {key: '31', label: '31 - 06-07', rows: p1_s31, err: p1_err[0], marks: p1_m31},
    {key: '32', label: '32 - 06-09', rows: p1_s32, err: p1_err[1], marks: p1_m32},
    {key: '33', label: '33 - 06-10', rows: p1_s33, err: p1_err[2]},
    {key: '34', label: '34 - 06-10', rows: p1_s34, err: p1_err[3], marks: p1_m34}
  ],
  fitX: fitPhase, fitY: p1_fit, fitLabel: '3rd Order', year: 'Year: 2019',
  legend: [19.7, 16.6, 78.3, 83.4], tp: ['TP1', 498.4, 66]
});

spectrumChart();

phasedChart('p3', {
  W: 646, H: 420, L: 71.2, R: 624.7, T: 41, B: 348.3, titleY: 21.7, footY: 382.3, ytX: 16.5,
  title: 'Phased Plot: (455736) 2005 HC3',
  foot: 'Period: 2.45 \u00b1 0.02 h  Amp: 0.11     JDo(LTC): 2458648.404608',
  yTitle: 'Reduced Magnitude(SR)    (a: 17.7   G: 0.15)',
  yMin: 18.278, yMax: 19.01, yTicks: p3_yTicks,
  sets: [
    {key: '200', label: '200 - 06-13', rows: p3_s200, err: p3_err[0], marks: p3_m200},
    {key: '201', label: '201 - 06-14', rows: p3_s201, err: p3_err[1], marks: p3_m201},
    {key: '202', label: '202 - 06-14', rows: p3_s202, err: p3_err[2], marks: p3_m202}
  ],
  fitX: fitPhase, fitY: p3_fit, fitLabel: '4th Order', year: 'Year: 2019',
  legend: [16.5, 16.3, 80.2, 72], tp: ['TP1', 498.8, 80]
});

phasedChart('p4', {
  W: 646, H: 420, L: 75.3, R: 628.4, T: 41, B: 348.3, titleY: 21.7, footY: 382.3, ytX: 20.6,
  title: 'Phased Plot: (523611) 2005 UY5',
  foot: 'Period: 5.56 \u00b1 0.01 h  Amp: 0.17     JDo(LTC): 2458323.488555',
  yTitle: 'Reduced Magnitude(I)    (a: 20.9   G: 0.15)',
  yMin: 18.515, yMax: 19.515, yTicks: uy5_yTicks,
  sets: [
    {key: '169', label: '169 - 07-24', rows: p4_s169, err: uy5_err[0], marks: p4_m169},
    {key: '170', label: '170 - 07-24', rows: p4_s170, err: uy5_err[1], marks: p4_m170},
    {key: '171', label: '171 - 07-25', rows: p4_s171, err: uy5_err[2], marks: p4_m171},
    {key: '172', label: '172 - 07-25', rows: p4_s172, err: uy5_err[3], marks: p4_m172}
  ],
  fitX: fitPhaseFine, fitY: p4_fit, fitLabel: '7th Order', year: 'Year: 2018',
  legend: [16.5, 16.3, 79.8, 86], tp: ['TP1', 502.9, 70.7]
});

phasedChart('p5', {
  W: 646, H: 420, L: 71.2, R: 624.7, T: 45.7, B: 354, titleY: 26, footY: 388.3, ytX: 16.5,
  title: 'Phased Plot: (523611) 2005 UY5',
  foot: 'Period: 3.18 \u00b1 0.01 h  Amp: 0.15     JDo(LTC): 2458323.488555',
  yTitle: 'Reduced Magnitude(I)    (a: 20.9   G: 0.15)',
  yMin: 18.514, yMax: 19.518, yTicks: uy5_yTicks,
  sets: [
    {key: '169', label: '169 - 07-24', rows: p5_s169, err: uy5_err[0], marks: p5_m169},
    {key: '170', label: '170 - 07-24', rows: p5_s170, err: uy5_err[1], marks: p5_m170},
    {key: '171', label: '171 - 07-25', rows: p5_s171, err: uy5_err[2], marks: p5_m171},
    {key: '172', label: '172 - 07-25', rows: p5_s172, err: uy5_err[3], marks: p5_m172}
  ],
  fitX: fitPhase, fitY: p5_fit, fitLabel: '4th Order', year: 'Year: 2018',
  legend: [16.5, 16, 80.2, 85.6], tp: ['TP2', 498.8, 76]
});

phasedChart('p6', {
  W: 646, H: 420, L: 75.3, R: 628.4, T: 45.7, B: 354, titleY: 26, footY: 388.3, ytX: 20.6,
  title: 'Phased Plot: (523611) 2005 UY5',
  foot: 'Period: 2.54 \u00b1 0.01 h  Amp: 0.12     JDo(LTC): 2458323.488555',
  yTitle: 'Reduced Magnitude(I)    (a: 20.9   G: 0.15)',
  yMin: 18.514, yMax: 19.518, yTicks: uy5_yTicks,
  sets: [
    {key: '169', label: '169 - 07-24', rows: p6_s169, err: uy5_err[0], marks: p6_m169},
    {key: '170', label: '170 - 07-24', rows: p6_s170, err: uy5_err[1], marks: p6_m170},
    {key: '171', label: '171 - 07-25', rows: p6_s171, err: uy5_err[2], marks: p6_m171},
    {key: '172', label: '172 - 07-25', rows: p6_s172, err: uy5_err[3], marks: p6_m172}
  ],
  fitX: fitPhase, fitY: p6_fit, fitLabel: '3rd Order', year: 'Year: 2018',
  legend: [18.5, 16, 79.9, 85.6], tp: ['TP3', 502, 76]
});

phasedChart('p7', {
  W: 646, H: 407, L: 67.1, R: 620.2, T: 51, B: 359.3, titleY: 31.7, footY: 394.3, ytX: 12.3,
  title: 'Phased Plot: 2008 LW16',
  foot: 'Period: 6.1 \u00b1 1.0 h  Amp: 0.33     JDo(LTC): 2458656.519312',
  yTitle: 'Reduced Magnitude(SR)    (a: 35.0   G: 0.15)',
  yMin: 20.839, yMax: 21.798, yTicks: p7_yTicks,
  sets: [
    {key: '207', label: '207 - 06-22', rows: p7_s207, err: p7_err[0], marks: p7_m207},
    {key: '208', label: '208 - 06-22', rows: p7_s208, err: p7_err[1], marks: p7_m208}
  ],
  fitX: fitPhase, fitY: p7_fit, fitLabel: '2nd Order', year: 'Year: 2019',
  legend: [16.1, 16.7, 81.5, 58.3], tp: ['TP/2', 493.8, 79]
});

phasedChart('p8', {
  W: 646, H: 407, L: 71.2, R: 624.3, T: 51, B: 359.3, titleY: 31.7, footY: 394.3, ytX: 16.5,
  title: 'Phased Plot: 2011 LH',
  foot: 'Period: 8.1 \u00b1 1.0 h  Amp: 0.22     JDo(LTC): 2458649.423439',
  yTitle: 'Reduced Magnitude(SR)    (a: 11.2   G: 0.15)',
  yMin: 20.066, yMax: 20.80, yTicks: p8_yTicks,
  sets: [
    {key: '203', label: '203 - 06-14', rows: p8_s203, err: p8_err[0], marks: p8_m203},
    {key: '204', label: '204 - 06-15', rows: p8_s204, err: p8_err[1], marks: p8_m204},
    {key: '205', label: '205 - 06-15', rows: p8_s205, err: p8_err[2], marks: p8_m205},
    {key: '206', label: '206 - 06-15', rows: p8_s206, err: p8_err[3], marks: p8_m206}
  ],
  fitX: fitPhase, fitY: p8_fit, fitLabel: '2nd Order', year: 'Year: 2019',
  legend: [16.1, 208.3, 80.2, 85.7], tp: ['TP/2', 588.5, 79.3]
});
</script>
</body>
</html>
